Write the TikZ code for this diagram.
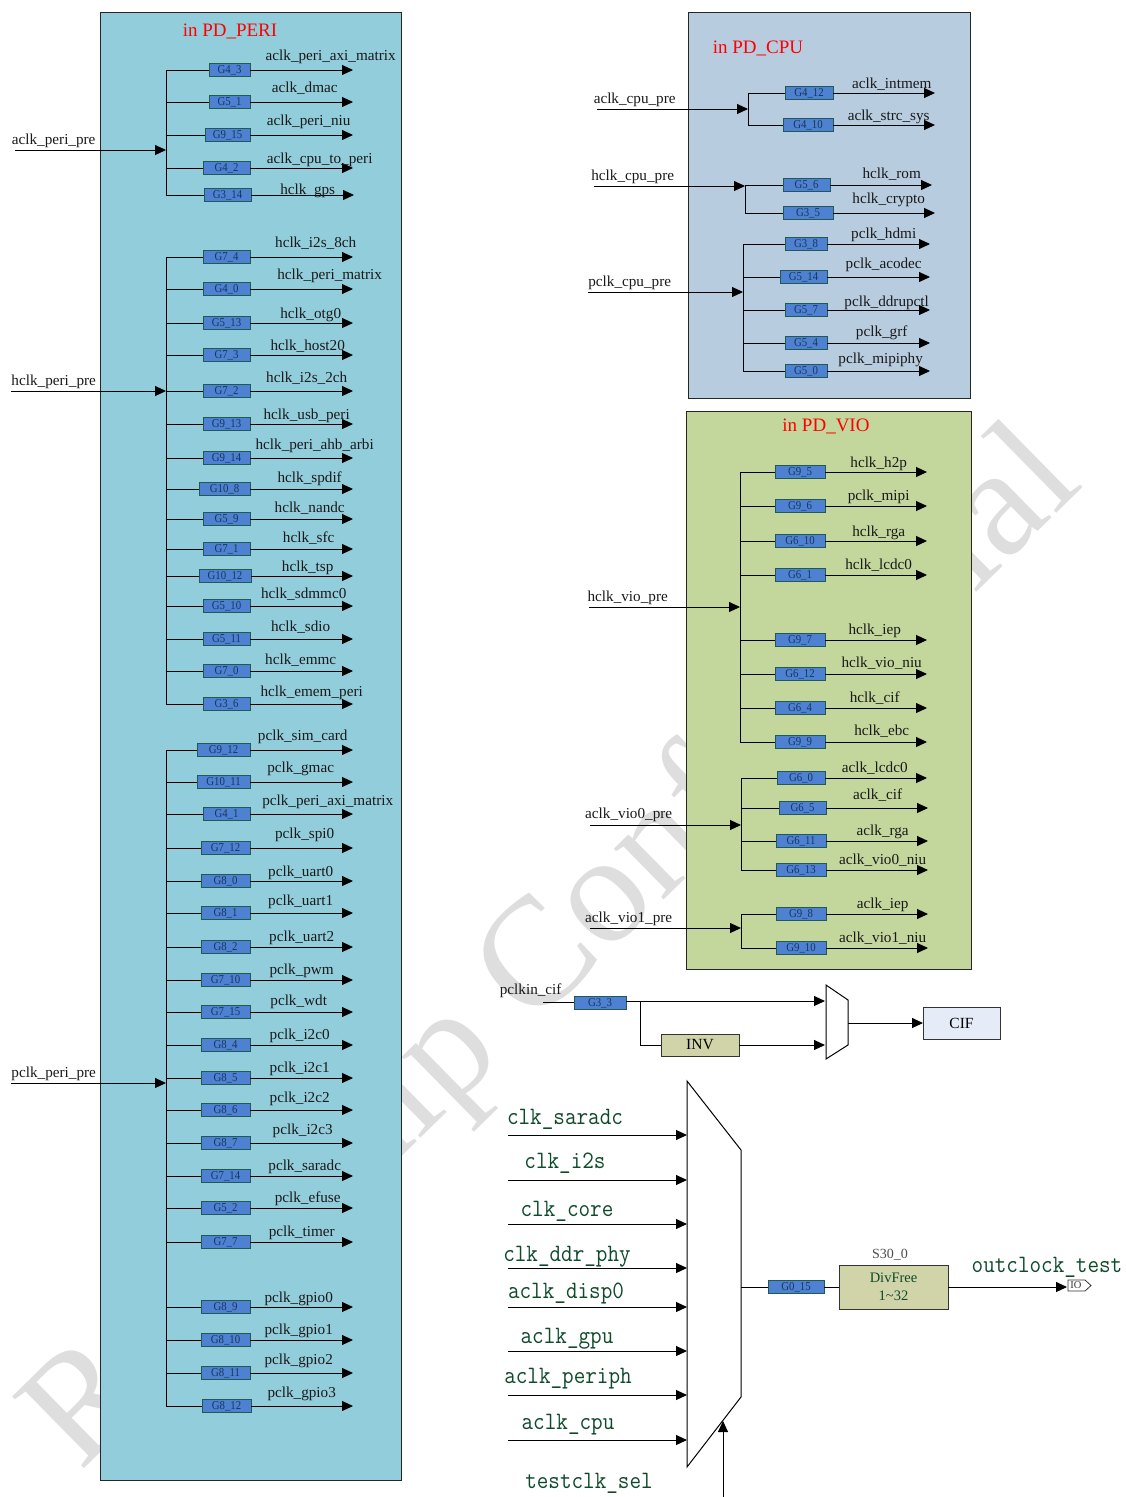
\documentclass[tikz,border=0pt]{standalone}
\usepackage{fontspec}
\usepackage{graphicx}
\setmainfont{Liberation Serif}
\usetikzlibrary{arrows.meta}
\definecolor{peribg}{HTML}{92CDDC}
\definecolor{cpubg}{HTML}{B8CCE0}
\definecolor{viobg}{HTML}{C3D69B}
\definecolor{gatefill}{HTML}{4F81D2}
\definecolor{gateline}{HTML}{215A50}
\definecolor{gatetext}{HTML}{17365D}
\definecolor{khaki}{HTML}{D0D4A8}
\definecolor{cifbg}{HTML}{E6ECF7}
\definecolor{monogreen}{HTML}{0F4A2A}
\definecolor{wmgray}{HTML}{DEDEDE}
\tikzset{
  wire/.style={line width=1pt,draw=black},
  arrowwire/.style={wire,-{Stealth[length=11pt,width=10pt,inset=0pt]}},
  gatebox/.style={draw=gateline,fill=gatefill,line width=1pt,inner sep=0pt,outer sep=0pt,minimum height=13pt,
    text=gatetext,text height=8pt,text depth=1.5pt,font=\fontsize{12}{12}\selectfont},
  sig/.style={inner sep=0pt,xshift=0.7pt,yshift=-2pt,text height=10pt,text depth=3pt,font=\fontsize{15.2}{15.2}\selectfont,text=black!90},
  domainbox/.style={draw=black!85,line width=1pt},
  domtitle/.style={text=red,inner sep=0pt,yshift=-1.5pt,font=\fontsize{19}{19}\selectfont},
  monolabel/.style={inner sep=0pt,yshift=-1.5pt,text=monogreen,text height=14pt,text depth=4pt,font=\fontsize{25}{25}\selectfont\ttfamily},
  blockbox/.style={draw=black!80,line width=1pt,inner sep=0pt,outer sep=0pt},
}
\newcommand{\gatetxt}[1]{\scalebox{.9}[1]{#1}}
\newcommand{\monotxt}[1]{\scalebox{.9}[1]{#1}}
\newcounter{rowid}
% bus x, box left, box right, y, gate text, label, label x, label y, arrow end
\newcommand{\clkrow}[9]{%
  \stepcounter{rowid}%
  \coordinate (b\therowid) at (#1,#4);
  \coordinate (e\therowid) at (#9,#4);
  \node[gatebox,minimum width={(#3-#2)*1pt}] (g\therowid) at ({(#2+#3)/2},#4) {\gatetxt{#5}};
  \draw[wire] (b\therowid) -- (g\therowid);
  \draw[arrowwire] (g\therowid) -- (e\therowid);
  \node[sig] (l\therowid) at (#7,#8) {#6};
}
% bus x, top y, bottom y, input start x, input y, label, label x, label y
\newcommand{\clkbus}[8]{%
  \stepcounter{rowid}%
  \coordinate (t\therowid) at (#1,#2);
  \coordinate (u\therowid) at (#1,#3);
  \coordinate (s\therowid) at (#4,#5);
  \coordinate (i\therowid) at (#1,#5);
  \draw[wire] (t\therowid) -- (u\therowid);
  \draw[arrowwire] (s\therowid) -- (i\therowid);
  \node[sig] (p\therowid) at (#7,#8) {#6};
}
% muxed input
\newcommand{\muxin}[4]{%
  \stepcounter{rowid}%
  \coordinate (s\therowid) at (508,#1);
  \coordinate (m\therowid) at (687,#1);
  \draw[arrowwire] (s\therowid) -- (m\therowid);
  \node[monolabel] (n\therowid) at (#3,#4) {\monotxt{#2}};
}
\begin{document}
\begin{tikzpicture}[x=1pt,y=-1pt]
\useasboundingbox (0,0) rectangle (1125,1497);
\begin{scope}
\clip (0,0) rectangle (1125,1497);
\node[text=wmgray,rotate=44.5,inner sep=0pt,font=\fontsize{155}{155}\selectfont] (wm) at (556,952) {Rockchip Confidential};
\end{scope}
% domains
\node[domainbox,fill=peribg,anchor=north west,minimum width=301pt,minimum height=1468pt,inner sep=0pt,outer sep=0pt] (peri) at (100,12) {};
\node[domainbox,fill=cpubg,anchor=north west,minimum width=282pt,minimum height=386pt,inner sep=0pt,outer sep=0pt] (cpu) at (688,12) {};
\node[domainbox,fill=viobg,anchor=north west,minimum width=285pt,minimum height=558pt,inner sep=0pt,outer sep=0pt] (vio) at (686,411) {};
\node[domtitle] (tperi) at (230,30) {in PD\_PERI};
\node[domtitle] (tcpu) at (758,47) {in PD\_CPU};
\node[domtitle] (tvio) at (826,425) {in PD\_VIO};
% PERI aclk
\clkbus{166}{70}{195}{15}{150}{aclk\_peri\_pre}{53}{139}
\clkrow{166}{209}{250}{70}{G4\_3}{aclk\_peri\_axi\_matrix}{330}{55}{353}
\clkrow{166}{209}{250}{102}{G5\_1}{aclk\_dmac}{304}{87}{353}
\clkrow{166}{205}{250}{135}{G9\_15}{aclk\_peri\_niu}{308}{120}{353}
\clkrow{166}{203}{250}{168}{G4\_2}{aclk\_cpu\_to\_peri}{319}{158}{353}
\clkrow{166}{204}{251}{195}{G3\_14}{hclk\_gps}{307}{189}{354}
% PERI hclk
\clkbus{166}{257}{704}{11}{391}{hclk\_peri\_pre}{53}{380}
\clkrow{166}{203}{250}{257}{G7\_4}{hclk\_i2s\_8ch}{315}{242}{353}
\clkrow{166}{203}{250}{289}{G4\_0}{hclk\_peri\_matrix}{329}{274}{353}
\clkrow{166}{203}{250}{323}{G5\_13}{hclk\_otg0}{310}{313}{353}
\clkrow{166}{203}{250}{355}{G7\_3}{hclk\_host20}{307}{345}{353}
\clkrow{166}{203}{250}{391}{G7\_2}{hclk\_i2s\_2ch}{306}{377}{353}
\clkrow{166}{203}{250}{424}{G9\_13}{hclk\_usb\_peri}{306}{414}{353}
\clkrow{166}{203}{250}{458}{G9\_14}{hclk\_peri\_ahb\_arbi}{314}{444}{353}
\clkrow{166}{199}{250}{489}{G10\_8}{hclk\_spdif}{309}{477}{353}
\clkrow{166}{203}{250}{519}{G5\_9}{hclk\_nandc}{309}{507}{353}
\clkrow{166}{203}{250}{549}{G7\_1}{hclk\_sfc}{308}{537}{353}
\clkrow{166}{199}{251}{576}{G10\_12}{hclk\_tsp}{307}{566}{353}
\clkrow{166}{203}{250}{606}{G5\_10}{hclk\_sdmmc0}{303}{593}{353}
\clkrow{166}{203}{250}{639}{G5\_11}{hclk\_sdio}{300}{626}{353}
\clkrow{166}{203}{250}{671}{G7\_0}{hclk\_emmc}{300}{659}{353}
\clkrow{166}{203}{250}{704}{G3\_6}{hclk\_emem\_peri}{311}{691}{353}
% PERI pclk
\clkbus{166}{750}{1406}{11}{1083}{pclk\_peri\_pre}{53}{1072}
\clkrow{166}{197}{250}{750}{G9\_12}{pclk\_sim\_card}{302}{735}{353}
\clkrow{166}{197}{250}{782}{G10\_11}{pclk\_gmac}{300}{767}{353}
\clkrow{166}{203}{250}{814}{G4\_1}{pclk\_peri\_axi\_matrix}{327}{800}{353}
\clkrow{166}{201}{250}{848}{G7\_12}{pclk\_spi0}{304}{833}{353}
\clkrow{166}{201}{250}{881}{G8\_0}{pclk\_uart0}{300}{871}{353}
\clkrow{166}{201}{250}{913}{G8\_1}{pclk\_uart1}{300}{900}{353}
\clkrow{166}{201}{250}{947}{G8\_2}{pclk\_uart2}{301}{936}{353}
\clkrow{166}{201}{250}{980}{G7\_10}{pclk\_pwm}{301}{969}{353}
\clkrow{166}{201}{250}{1012}{G7\_15}{pclk\_wdt}{298}{1000}{353}
\clkrow{166}{201}{250}{1045}{G8\_4}{pclk\_i2c0}{299}{1034}{353}
\clkrow{166}{201}{250}{1078}{G8\_5}{pclk\_i2c1}{299}{1067}{353}
\clkrow{166}{201}{250}{1110}{G8\_6}{pclk\_i2c2}{299}{1097}{353}
\clkrow{166}{201}{250}{1143}{G8\_7}{pclk\_i2c3}{302}{1129}{353}
\clkrow{166}{201}{250}{1176}{G7\_14}{pclk\_saradc}{304}{1165}{353}
\clkrow{166}{201}{250}{1208}{G5\_2}{pclk\_efuse}{307}{1197}{353}
\clkrow{166}{201}{250}{1242}{G7\_7}{pclk\_timer}{301}{1231}{353}
\clkrow{166}{201}{250}{1307}{G8\_9}{pclk\_gpio0}{298}{1297}{353}
\clkrow{166}{201}{250}{1340}{G8\_10}{pclk\_gpio1}{298}{1329}{353}
\clkrow{166}{201}{250}{1373}{G8\_11}{pclk\_gpio2}{298}{1359}{353}
\clkrow{166}{202}{251}{1406}{G8\_12}{pclk\_gpio3}{301}{1392}{353}
% CPU
\clkbus{748}{93}{125}{597}{109}{aclk\_cpu\_pre}{634}{98}
\clkrow{748}{785}{833}{93}{G4\_12}{aclk\_intmem}{891}{83}{935}
\clkrow{748}{783}{833}{125}{G4\_10}{aclk\_strc\_sys}{888}{115}{935}
\clkbus{745}{185}{213}{594}{186}{hclk\_cpu\_pre}{632}{175}
\clkrow{745}{783}{830}{185}{G5\_6}{hclk\_rom}{891}{173}{932}
\clkrow{745}{783}{833}{213}{G3\_5}{hclk\_crypto}{888}{198}{935}
\clkbus{743}{244}{371}{588}{292}{pclk\_cpu\_pre}{629}{281}
\clkrow{743}{785}{827}{244}{G3\_8}{pclk\_hdmi}{883}{233}{930}
\clkrow{743}{780}{827}{277}{G5\_14}{pclk\_acodec}{883}{263}{930}
\clkrow{743}{785}{827}{310}{G5\_7}{pclk\_ddrupctl}{886}{301}{930}
\clkrow{743}{785}{827}{343}{G5\_4}{pclk\_grf}{881}{331}{930}
\clkrow{743}{785}{827}{371}{G5\_0}{pclk\_mipiphy}{880}{358}{930}
% VIO
\clkbus{740}{472}{742}{589}{607}{hclk\_vio\_pre}{627}{596}
\clkrow{740}{775}{825}{472}{G9\_5}{hclk\_h2p}{878}{462}{927}
\clkrow{740}{775}{825}{506}{G9\_6}{pclk\_mipi}{878}{495}{927}
\clkrow{740}{775}{825}{541}{G6\_10}{hclk\_rga}{878}{531}{927}
\clkrow{740}{775}{825}{575}{G6\_1}{hclk\_lcdc0}{878}{564}{927}
\clkrow{740}{775}{825}{640}{G9\_7}{hclk\_iep}{874}{629}{927}
\clkrow{740}{775}{825}{674}{G6\_12}{hclk\_vio\_niu}{881}{662}{927}
\clkrow{740}{775}{825}{708}{G6\_4}{hclk\_cif}{874}{697}{927}
\clkrow{740}{775}{825}{742}{G9\_9}{hclk\_ebc}{881}{730}{927}
\clkbus{741}{778}{870}{590}{825}{aclk\_vio0\_pre}{628}{813}
\clkrow{741}{777}{825}{778}{G6\_0}{aclk\_lcdc0}{874}{767}{927}
\clkrow{741}{779}{826}{808}{G6\_5}{aclk\_cif}{877}{794}{928}
\clkrow{741}{776}{826}{841}{G6\_11}{aclk\_rga}{882}{830}{928}
\clkrow{741}{776}{826}{870}{G6\_13}{aclk\_vio0\_niu}{882}{859}{928}
\clkbus{741}{914}{948}{590}{928}{aclk\_vio1\_pre}{628}{917}
\clkrow{741}{776}{826}{914}{G9\_8}{aclk\_iep}{882}{903}{928}
\clkrow{741}{776}{826}{948}{G9\_10}{aclk\_vio1\_niu}{882}{937}{928}
% CIF selection
\node[sig] (lcif) at (530,989) {pclkin\_cif};
\coordinate (cifin) at (543,1002);
\node[gatebox,minimum width=52pt] (g33) at (600,1003) {\gatetxt{G3\_3}};
\coordinate (cifa) at (825,1001);
\coordinate (cifb) at (825,1045);
\coordinate (cifbr) at (640,1001);
\coordinate (g33r) at (626,1001);
\coordinate (g33l) at (574,1002);
\node[blockbox,fill=khaki,minimum width=78pt,minimum height=22pt,font=\fontsize{15.5}{15.5}\selectfont] (inv) at (700,1045) {INV};
\node[blockbox,fill=cifbg,minimum width=77pt,minimum height=32pt,font=\fontsize{15.5}{15.5}\selectfont] (cifblk) at (961.5,1023) {CIF};
\draw[wire] (cifin) -- (g33l);
\draw[arrowwire] (g33r) -- (cifa);
\draw[wire] (cifbr) |- (inv);
\draw[arrowwire] (inv) -- (cifb);
\draw[wire,fill=white] (826,985) -- (848,1000) -- (848,1045) -- (826,1059) -- cycle;
\coordinate (cifout) at (848,1023);
\draw[arrowwire] (cifout) -- (cifblk);
% large mux
\fill[white] (687,1081) -- (741,1150) -- (741,1397) -- (687,1467) -- cycle;
\muxin{1135}{clk\_saradc}{565}{1118}
\muxin{1180}{clk\_i2s}{565}{1162}
\muxin{1224}{clk\_core}{567}{1210}
\muxin{1268}{clk\_ddr\_phy}{567}{1255}
\muxin{1307}{aclk\_disp0}{566}{1292}
\muxin{1351}{aclk\_gpu}{567}{1337}
\muxin{1395}{aclk\_periph}{568}{1377}
\muxin{1440}{aclk\_cpu}{568}{1423}
\draw[wire] (687,1081) -- (741,1150) -- (741,1397) -- (687,1467) -- cycle;
\node[monolabel] (lsel) at (589,1482) {\monotxt{testclk\_sel}};
\coordinate (selstart) at (723,1497);
\coordinate (selend) at (723,1421);
\draw[arrowwire] (selstart) -- (selend);
% output
\coordinate (muxout) at (741,1287);
\node[gatebox,minimum width=56pt] (g015) at (796,1287) {\gatetxt{G0\_15}};
\node[blockbox,fill=khaki,minimum width=109pt,minimum height=44pt,align=center,text=monogreen,font=\fontsize{14.5}{18}\selectfont] (div) at (893.5,1287) {DivFree\\1\textasciitilde32};
\node[inner sep=0pt,yshift=-1pt,text=black!70,font=\fontsize{14}{14}\selectfont] (s30) at (890,1254) {S30\_0};
\node[monolabel] (lout) at (1047,1266) {\monotxt{outclock\_test}};
\draw[wire] (muxout) -- (g015);
\draw[wire] (g015) -- (div);
\coordinate (ioin) at (1067,1287);
\draw[arrowwire] (div) -- (ioin);
\draw[line width=0.8pt,draw=black!80] (1068,1280) -- (1085,1280) -- (1091,1285.5) -- (1085,1291) -- (1068,1291) -- cycle;
\node[inner sep=0pt,text=black!80,font=\fontsize{10.5}{10.5}\selectfont] (iotxt) at (1076,1285.5) {IO};
\end{tikzpicture}
\end{document}
